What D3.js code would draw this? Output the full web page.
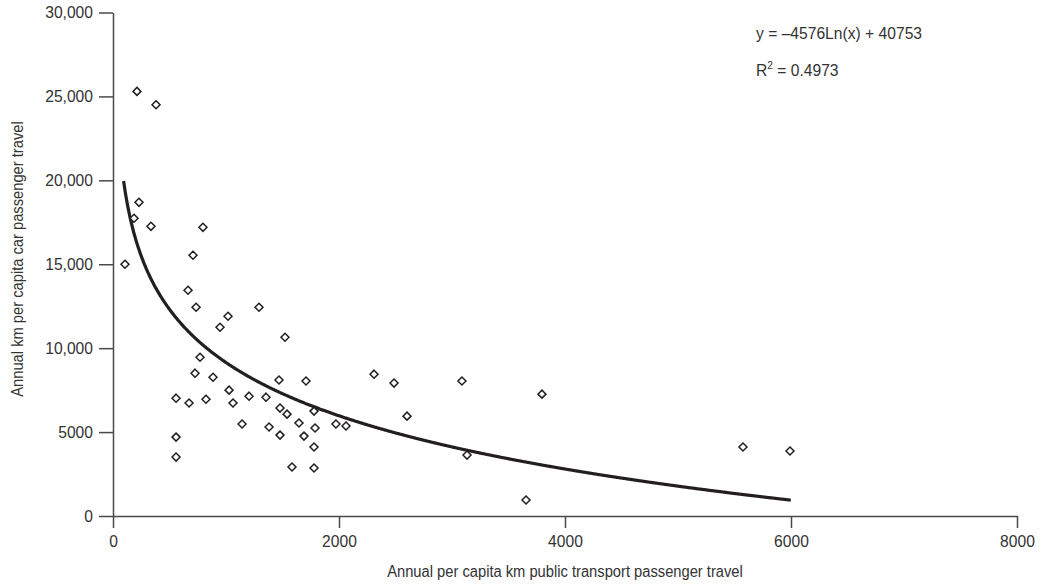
<!DOCTYPE html>
<html>
<head>
<meta charset="utf-8">
<script src="https://cdn.jsdelivr.net/npm/d3@7/dist/d3.min.js"></script>
<style>
  html, body { margin: 0; padding: 0; background: #fff; }
  svg { display: block; }
  text { font-family: "Liberation Sans", Arial, Helvetica, sans-serif; fill: #333; }
</style>
</head>
<body>
<svg id="chart" width="1042" height="584"></svg>
<script>
// Data: public transport km (x) and car km (y) per capita
const transitKm = [212, 381, 106, 186, 230, 336, 796, 708, 664, 735, 947, 1018, 1292, 1522, 770, 726, 885, 558, 673, 823, 1027, 1062, 1204, 1354, 1478, 1142, 1381, 1478, 1540, 1646, 1690, 1788, 1779, 1584, 1779, 1708, 1779, 1469, 558, 558, 1973, 2062, 2310, 2487, 2602, 3088, 3133, 3655, 3796, 5575, 5991];
const carKm = [25300, 24500, 15000, 17740, 18690, 17260, 17200, 15540, 13450, 12440, 11250, 11900, 12440, 10650, 9460, 8510, 8270, 7020, 6730, 6960, 7500, 6730, 7140, 7080, 6430, 5480, 5300, 4820, 6070, 5540, 4760, 5240, 4110, 2920, 2860, 8040, 6250, 8100, 4700, 3510, 5480, 5360, 8450, 7920, 5950, 8040, 3630, 950, 7260, 4110, 3870];

// Logarithmic trend line as printed on the chart
const trendSlope = -4576;
const trendIntercept = 40753;
const trendRange = [94, 6000];
const equationLabel = "y = \u20134576Ln(x) + 40753";
const rSquaredValue = "0.4973";

const xTicks = [0, 2000, 4000, 6000, 8000];
const xTickLabels = ["0", "2000", "4000", "6000", "8000"];
const yTicks = [0, 5000, 10000, 15000, 20000, 25000, 30000];
const yTickLabels = ["0", "5000", "10,000", "15,000", "20,000", "25,000", "30,000"];

const xTitle = "Annual per capita km public transport passenger travel";
const yTitle = "Annual km per capita car passenger travel";

const svg = d3.select("#chart");
const plotLeft = 113, plotRight = 1017, plotTop = 12.5, plotBottom = 516;

const x = d3.scaleLinear().domain([0, 8000]).range([plotLeft, plotRight]);
const y = d3.scaleLinear().domain([0, 30000]).range([plotBottom, plotTop]);

const axisColor = "#4a4a4a";
const fontSize = 17;
const titleSize = 16;
const sx = 0.92; // horizontal condensing to mimic a condensed sans

// X axis
const gx = svg.append("g").attr("transform", `translate(0,${plotBottom})`)
  .call(d3.axisBottom(x).tickValues(xTicks).tickSize(12).tickSizeOuter(0)
    .tickFormat((d, i) => xTickLabels[i]));
gx.select(".domain").attr("stroke", axisColor).attr("stroke-width", 1.5);
gx.selectAll(".tick line").attr("stroke", axisColor).attr("stroke-width", 1.5);
gx.selectAll(".tick text").attr("font-size", fontSize).attr("dy", "0.95em")
  .attr("fill", "#333").attr("transform", `scale(${sx},1)`);

// Y axis
const gy = svg.append("g").attr("transform", `translate(${plotLeft},0)`)
  .call(d3.axisLeft(y).tickValues(yTicks).tickSize(14).tickSizeOuter(0)
    .tickFormat((d, i) => yTickLabels[i]));
gy.select(".domain").attr("stroke", axisColor).attr("stroke-width", 1.5);
gy.selectAll(".tick line").attr("stroke", axisColor).attr("stroke-width", 1.5);
gy.selectAll(".tick text").attr("font-size", fontSize).attr("x", -20 / sx)
  .attr("fill", "#333").attr("transform", `scale(${sx},1)`);
svg.selectAll("g").attr("font-family", null).attr("font-size", null);

// Axis titles
svg.append("text").attr("transform", `translate(${(plotLeft + plotRight) / 2},577) scale(${sx},1)`)
  .attr("text-anchor", "middle").attr("font-size", titleSize).text(xTitle);
svg.append("text").attr("transform", `translate(23,259) rotate(-90) scale(${sx},1)`)
  .attr("text-anchor", "middle").attr("font-size", titleSize).text(yTitle);

// Trend line
const trendPts = d3.range(trendRange[0], trendRange[1] + 1, 6)
  .map(v => [v, trendSlope * Math.log(v) + trendIntercept]);
svg.append("path").datum(trendPts)
  .attr("fill", "none").attr("stroke", "#231f20").attr("stroke-width", 3.2)
  .attr("d", d3.line().x(d => x(d[0])).y(d => y(d[1])));

// Points (diamonds)
const r = 4;
const diamond = `M0,${-r}L${r},0L0,${r}L${-r},0Z`;
svg.append("g").selectAll("path").data(transitKm.map((v, i) => [v, carKm[i]]))
  .join("path")
  .attr("transform", d => `translate(${x(d[0])},${y(d[1])})`)
  .attr("d", diamond)
  .attr("fill", "#fff").attr("stroke", "#231f20").attr("stroke-width", 1.5);

// Equation
svg.append("text").attr("transform", `translate(756,39) scale(${sx},1)`)
  .attr("font-size", fontSize).text(equationLabel);
const r2 = svg.append("text").attr("transform", `translate(756,76) scale(${sx},1)`)
  .attr("font-size", fontSize);
r2.append("tspan").text("R");
r2.append("tspan").attr("font-size", 11).attr("dy", -7).text("2");
r2.append("tspan").attr("dy", 7).text(" = " + rSquaredValue);
</script>
</body>
</html>
